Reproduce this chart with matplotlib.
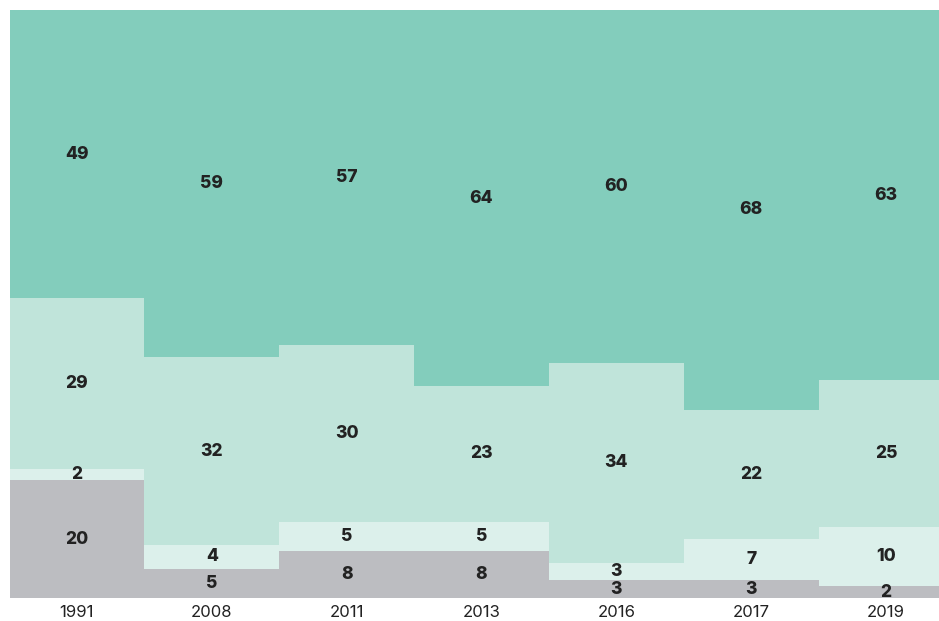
import matplotlib.pyplot as plt
import numpy as np

years = ['1991', '2008', '2011', '2013', '2016', '2017', '2019']
gray = [20, 5, 8, 8, 3, 3, 2]
lightest = [2, 4, 5, 5, 3, 7, 10]
light = [29, 32, 30, 23, 34, 22, 25]
teal = [49, 59, 57, 64, 60, 68, 63]

layers = [gray, lightest, light, teal]
colors = ['#bcbdc1', '#dcf0eb', '#c0e4da', '#83cdbc']

fig = plt.figure(figsize=(9.39, 6.21), dpi=100)
# bars run a little past the right edge of the picture
ax = fig.add_axes([9.5 / 939, 23 / 621, 944 / 939, 588 / 621])

x = np.arange(len(years))
bottom = np.zeros(len(years))
for vals, col in zip(layers, colors):
    vals = np.array(vals)
    ax.bar(x, vals, width=1.0, bottom=bottom, color=col, linewidth=0)
    for xi, b, v in zip(x, bottom, vals):
        ax.text(xi, b + v / 2, str(v), ha='center', va='center',
                fontsize=12.5, fontweight='heavy', color='#222222', family='Inter')
    bottom += vals

ax.set_xlim(-0.5, len(years) - 0.5)
ax.set_ylim(0, 100)
ax.set_xticks(x)
ax.set_xticklabels(years, fontsize=12, color='#222222', family='Inter')
ax.tick_params(axis='x', length=0, pad=5)
ax.set_yticks([])
for s in ax.spines.values():
    s.set_visible(False)

fig.savefig('out.png', dpi=100)
